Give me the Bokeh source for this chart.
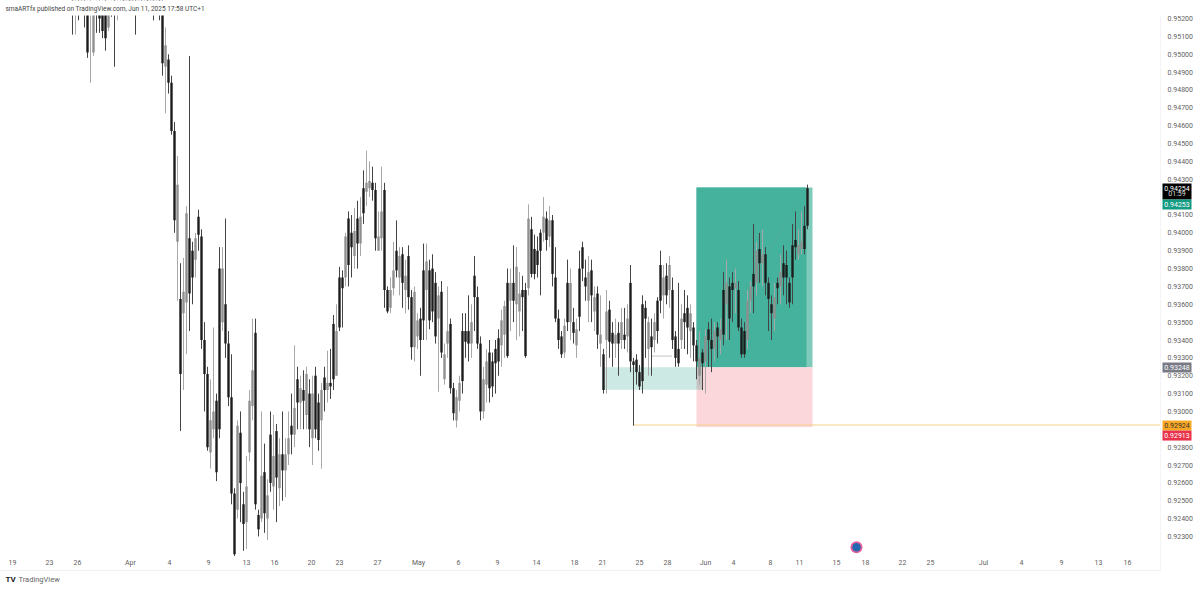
from bokeh.plotting import figure
from bokeh.embed import file_html
from bokeh.resources import INLINE
from bokeh.models import FixedTicker, Range1d, PrintfTickFormatter
from bokeh.core.properties import value

# prices in units of 0.0001, one candle per step
opens = [
9530,9526,9535,9532,9530,9522,9522,9501,9525,9525,9522,9530,9515,9525,9530,9524,9530,9535,9534,9538,
9534,9530,9530,9534,9530,9535,9531,9534,9530,9533,9529,9493,9497,9484,9457,9395,9363,9355,9361,9397,
9390,9385,9409,9398,9340,9321,9277,9290,9306,9380,9350,9360,9338,9308,9254,9245,9288,9248,9238,9277,
9303,9344,9242,9240,9266,9240,9287,9258,9289,9257,9276,9267,9276,9292,9287,9318,9305,9312,9298,9310,
9285,9320,9305,9295,9319,9312,9316,9349,9320,9375,9375,9375,9408,9400,9387,9408,9394,9425,9423,9425,
9428,9424,9390,9397,9424,9368,9358,9369,9390,9375,9388,9368,9387,9364,9336,9342,9352,9379,9368,9379,
9380,9372,9352,9367,9318,9338,9349,9313,9295,9306,9345,9345,9345,9338,9376,9364,9338,9300,9315,9333,
9328,9335,9341,9337,9343,9372,9362,9372,9360,9356,9368,9368,9369,9402,9391,9390,9400,9400,9408,9398,
9407,9375,9352,9342,9333,9372,9350,9350,9337,9380,9392,9375,9362,9379,9356,9366,9338,9332,9340,9357,
9344,9338,9344,9340,9343,9342,9372,9328,9329,9322,9360,9358,9335,9342,9340,9362,9382,9365,9376,9368,
9368,9342,9335,9340,9355,9358,9345,9347,9337,9320,9333,9328,9346,9340,9335,9347,9340,9368,9360,9370,
9372,9369,9368,9347,9345,9340,9362,9377,9372,9391,9383,9388,9372,9360,9352,9372,9370,9383,9382,9372,
9393,9396,9388,9391,9404,9425]
closes = [
9526,9530,9530,9536,9522,9501,9535,9525,9522,9520,9513,9509,9525,9522,9524,9528,9535,9531,9538,9534,
9530,9526,9534,9530,9535,9531,9534,9530,9533,9529,9495,9505,9484,9457,9407,9427,9321,9367,9411,9366,
9375,9397,9399,9340,9321,9280,9295,9300,9266,9290,9380,9338,9308,9254,9220,9292,9260,9237,9258,9306,
9323,9248,9234,9264,9243,9253,9260,9275,9263,9276,9267,9276,9285,9287,9302,9305,9313,9306,9321,9290,
9310,9290,9284,9312,9312,9316,9314,9318,9345,9347,9369,9398,9382,9392,9401,9394,9409,9411,9428,9429,
9424,9397,9398,9412,9368,9356,9368,9379,9379,9387,9372,9376,9364,9336,9367,9351,9340,9351,9384,9351,
9356,9342,9365,9333,9332,9345,9313,9299,9308,9316,9317,9339,9338,9350,9364,9338,9300,9318,9328,9313,
9314,9327,9328,9351,9359,9331,9372,9362,9381,9366,9364,9331,9408,9377,9377,9382,9390,9409,9396,9407,
9377,9352,9340,9332,9348,9350,9372,9344,9346,9353,9380,9370,9378,9365,9364,9343,9343,9312,9356,9339,
9338,9343,9338,9350,9340,9352,9328,9326,9322,9314,9317,9352,9350,9336,9350,9345,9362,9375,9365,9382,
9340,9330,9327,9352,9350,9347,9355,9337,9328,9330,9327,9342,9340,9335,9345,9342,9346,9343,9372,9352,
9368,9372,9347,9332,9332,9362,9370,9370,9390,9383,9388,9372,9363,9355,9364,9369,9378,9375,9375,9361,
9375,9392,9393,9395,9391,9404]
highs = [
9540,9536,9538,9540,9540,9530,9540,9530,9530,9532,9530,9535,9530,9530,9535,9532,9540,9540,9540,9540,
9540,9535,9538,9538,9538,9538,9538,9538,9538,9535,9535,9515,9500,9488,9462,9443,9383,9386,9415,9499,
9395,9400,9413,9402,9350,9325,9318,9347,9310,9392,9392,9408,9345,9332,9257,9295,9300,9255,9275,9312,
9352,9352,9245,9300,9282,9262,9300,9298,9293,9285,9300,9285,9300,9310,9337,9325,9320,9323,9325,9318,
9320,9325,9310,9316,9325,9334,9335,9354,9360,9381,9379,9400,9412,9410,9414,9418,9420,9435,9446,9440,
9437,9428,9412,9437,9428,9370,9375,9395,9407,9392,9392,9385,9393,9368,9370,9355,9358,9394,9394,9385,
9388,9378,9370,9373,9338,9370,9352,9316,9312,9320,9355,9355,9365,9360,9387,9370,9342,9325,9335,9340,
9333,9340,9346,9357,9362,9380,9380,9393,9392,9378,9376,9372,9416,9409,9399,9398,9402,9420,9412,9415,
9410,9392,9357,9345,9352,9385,9380,9358,9352,9390,9395,9385,9387,9385,9370,9370,9365,9335,9368,9362,
9350,9352,9350,9358,9358,9360,9382,9330,9332,9326,9365,9362,9353,9352,9355,9364,9390,9382,9383,9387,
9375,9345,9372,9360,9368,9365,9360,9350,9340,9345,9335,9346,9350,9352,9350,9350,9352,9378,9385,9375,
9378,9380,9373,9352,9350,9368,9373,9405,9395,9400,9402,9392,9375,9365,9372,9375,9388,9393,9390,9375,
9405,9412,9402,9412,9415,9427]
lows = [
9511,9511,9519,9528,9515,9498,9484,9499,9512,9512,9509,9502,9513,9521,9493,9519,9525,9525,9528,9526,
9522,9511,9525,9525,9526,9526,9525,9519,9525,9519,9488,9467,9478,9455,9400,9362,9289,9312,9332,9345,
9360,9375,9390,9335,9300,9278,9268,9285,9261,9285,9345,9330,9303,9248,9219,9240,9238,9222,9223,9272,
9295,9245,9230,9238,9232,9228,9255,9245,9238,9247,9250,9252,9270,9276,9280,9290,9290,9290,9290,9280,
9270,9285,9278,9268,9300,9305,9307,9312,9320,9345,9347,9370,9370,9375,9380,9380,9387,9405,9415,9420,
9418,9390,9390,9390,9358,9355,9355,9365,9375,9365,9358,9355,9357,9329,9328,9335,9320,9340,9340,9346,
9350,9338,9311,9330,9315,9330,9310,9295,9291,9300,9310,9330,9328,9330,9345,9335,9295,9296,9305,9305,
9308,9310,9320,9325,9330,9330,9345,9350,9340,9342,9345,9330,9365,9375,9374,9375,9365,9395,9390,9392,
9370,9350,9335,9330,9330,9345,9340,9338,9330,9345,9373,9362,9350,9350,9345,9335,9325,9310,9310,9330,
9325,9330,9320,9335,9335,9333,9322,9292,9315,9312,9310,9330,9320,9320,9333,9338,9355,9352,9360,9358,
9335,9325,9325,9335,9335,9332,9330,9328,9318,9315,9312,9310,9325,9322,9328,9330,9332,9337,9340,9340,
9350,9355,9345,9330,9330,9335,9355,9355,9365,9372,9370,9365,9345,9340,9345,9360,9360,9365,9360,9358,
9360,9385,9385,9388,9388,9402]

price_ticks = [0.923,0.924,0.925,0.926,0.927,0.928,0.930,0.931,0.932,0.933,0.934,0.935,0.936,0.937,0.938,0.939,
               0.940,0.941,0.943,0.944,0.945,0.946,0.947,0.948,0.949,0.950,0.951,0.952]
time_tick_pos = [-20,-7.67,1.67,19.33,32.33,45.33,58,67.33,79.67,89,101.67,115.33,128.67,141.67,154.67,
                 167.33,176.67,189,198.33,211,220.33,232.67,242.33,254.67,264.33,276.67,286,303.67,316.33,329.67,342,351.67]
time_tick_labels = ["19","23","26","Apr","4","9","13","16","20","23","27","May","6","9","14","18","21","25","28",
                    "Jun","4","8","11","15","18","22","25","Jul","4","9","13","16"]

entry = 0.93248
target = 0.94254
stop = 0.92913
orange_level = 0.92924
zone_low = 0.93122
position_start, position_data_end, position_end = 208, 244.67, 246.67
zone_start, zone_end = 177.33, 210
wick_start = 187
chart_top, chart_right = 0.95217, 362.67
X_MIN, X_MAX = -24, 376
Y_MIN, Y_MAX = 0.92003, 0.95301

tag_left, tag_right, tag_mid = 363.33, 373, 368.17
tag_tops    = [0.94276, 0.94187, 0.93274, 0.92949, 0.92893]
tag_bottoms = [0.94187, 0.94131, 0.93218, 0.92893, 0.92837]
tag_colors  = ["#000000", "#129a82", "#787b86", "#f9a825", "#e8334a"]
tag_texts   = ["0.94254", "01:59", "0.94253", "0.93248", "0.92924", "0.92913"]
tag_text_y  = [0.94248, 0.94215, 0.94159, 0.93246, 0.92921, 0.92865]
tag_text_colors = ["#ffffff", "#dddddd", "#ffffff", "#ffffff", "#333333", "#ffffff"]

xs = list(range(len(opens)))
O = [v / 10000 for v in opens]
C = [v / 10000 for v in closes]
H = [v / 10000 for v in highs]
L = [v / 10000 for v in lows]
up = [c >= o for o, c in zip(O, C)]

p = figure(width=1200, height=589, output_backend="svg", toolbar_location=None,
           x_range=Range1d(X_MIN, X_MAX), y_range=Range1d(Y_MIN, Y_MAX),
           y_axis_location="right", min_border_left=0, min_border_top=0, min_border_right=0, min_border_bottom=0)
p.grid.visible = False
p.outline_line_color = None
p.background_fill_color = "#ffffff"
p.xaxis.ticker = FixedTicker(ticks=time_tick_pos)
p.xaxis.major_label_overrides = {float(k): v for k, v in zip(time_tick_pos, time_tick_labels)}
p.yaxis.ticker = FixedTicker(ticks=price_ticks)
p.yaxis.formatter = PrintfTickFormatter(format="%.5f")
for ax in (p.xaxis, p.yaxis):
    ax.axis_line_color = None
    ax.major_tick_line_color = None
    ax.minor_tick_line_color = None
    ax.major_tick_out = 0
    ax.major_tick_in = 0
    ax.minor_tick_out = 0
    ax.major_label_text_color = "#5f5f5f"
    ax.major_label_text_font = "Roboto"
    ax.major_label_text_font_size = "7px"
p.yaxis.major_label_standoff = -33
p.xaxis.major_label_standoff = -31

# zones
p.quad(left=position_start, right=position_end, bottom=entry, top=target, fill_color="#7fcabb", line_color=None)
p.quad(left=position_start, right=position_data_end, bottom=entry, top=target, fill_color="#45b29d", line_color=None)
p.quad(left=position_start, right=position_end, bottom=stop, top=entry, fill_color="#fbd6db", line_color=None)
p.quad(left=zone_start, right=zone_end, bottom=zone_low, top=entry, fill_color="#cce9e3", line_color=None)
p.quad(left=position_start, right=zone_end, bottom=zone_low, top=entry, fill_color="#c8c4c4", line_color=None)
p.line([wick_start, chart_right], [orange_level, orange_level], line_color="#f5d28a", line_width=1.2)
p.line([193.33, 200], [0.9331, 0.9331], line_color="#888888", line_width=1, line_dash="1 1")
p.line([209.3, 244.67], [entry, target], line_color="#5f9f90", line_width=1, line_dash="1 2")

# candles
dark_x = [x for x, u in zip(xs, up) if not u]
light_x = [x for x, u in zip(xs, up) if u]
def pick(vals, flag):
    return [v for v, u in zip(vals, up) if u == flag]
p.segment(light_x, pick(L, True), light_x, pick(H, True), line_color="#a8a8a8", line_width=1)
p.vbar(x=light_x, bottom=pick(O, True), top=pick(C, True), width=0.8, fill_color="#8f8f8f", line_color=None)
p.segment(dark_x, pick(L, False), dark_x, pick(H, False), line_color="#444444", line_width=1)
p.vbar(x=dark_x, bottom=pick(C, False), top=pick(O, False), width=0.8, fill_color="#1c1c1c", line_color=None)

# the pane ends at chart_top: keep the header band clear of candles
p.quad(left=X_MIN, right=X_MAX, bottom=chart_top, top=Y_MAX, fill_color="#ffffff", line_color=None)

# faint pane borders
p.line([X_MIN, chart_right], [0.92109, 0.92109], line_color="#f1f1f1", line_width=1)
p.line([chart_right, chart_right], [0.92109, chart_top], line_color="#f4f4f4", line_width=1)

# event icon
p.scatter([261.33], [0.9224], size=12, marker="circle", fill_color="#e8609a", line_color=None)
p.scatter([261.33], [0.9224], size=8.5, marker="circle", fill_color="#2468b0", line_color=None)

# price tags
p.quad(left=[tag_left] * 5, right=[tag_right] * 5, bottom=tag_bottoms, top=tag_tops, fill_color=tag_colors, line_color=None)
p.text(x=[tag_mid] * 6, y=tag_text_y, text=tag_texts, text_color=tag_text_colors, text_font=value("Roboto"),
       text_font_size="7px", text_align="center", text_baseline="middle")

# header and footer
p.text(x=[-22.33], y=[0.95256], text=["smaARTfx published on TradingView.com, Jun 11, 2025 17:58 UTC+1"],
       text_color="#444444", text_font=value("Roboto"), text_font_size="6.5px", text_baseline="middle")
p.text(x=[-22.33], y=[0.92059], text=["TV"], text_color="#1c1c1c", text_font=value("Roboto"),
       text_font_style="bold", text_font_size="8px", text_baseline="middle")
p.text(x=[-18], y=[0.92059], text=["TradingView"], text_color="#666666", text_font=value("Roboto"),
       text_font_size="7.5px", text_baseline="middle")

open("out.html", "w").write(file_html(p, INLINE))
